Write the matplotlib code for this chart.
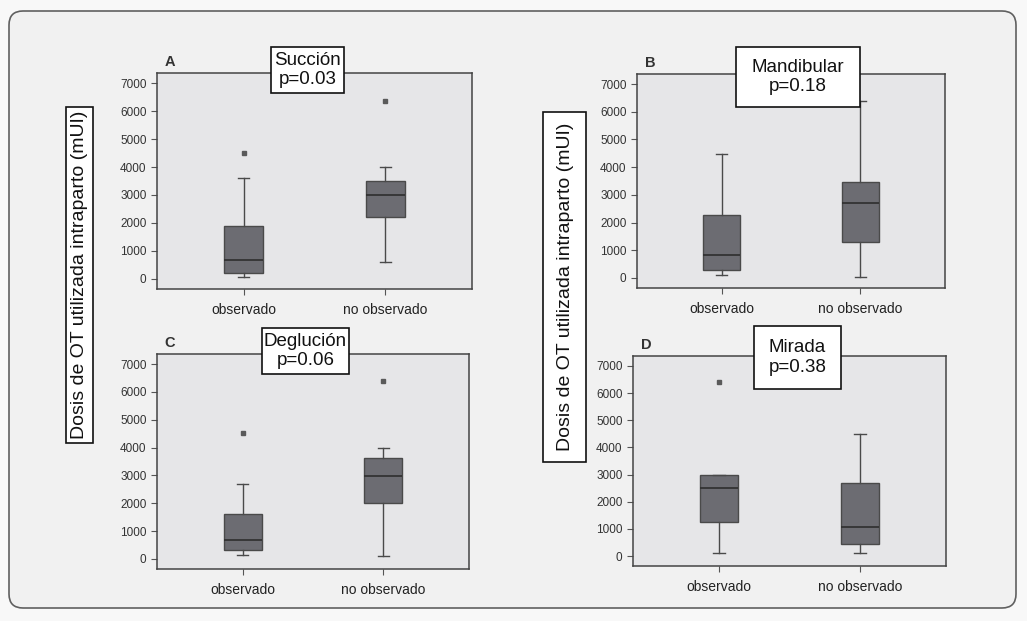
import matplotlib
matplotlib.use('Agg')
import matplotlib.pyplot as plt
from matplotlib.patches import Rectangle, FancyBboxPatch
from matplotlib.transforms import IdentityTransform

plt.rcParams['font.family'] = ['Liberation Sans', 'DejaVu Sans']

# datos (mUI), orden: [observado, no observado]
grupos = ['observado', 'no observado']
letras = ['A', 'B', 'C', 'D']
titulos = ['Succión\np=0.03', 'Mandibular\np=0.18', 'Deglución\np=0.06', 'Mirada\np=0.38']

bigote_inf = [[80, 600], [110, 50], [140, 90], [130, 100]]
cuartil1 = [[190, 2200], [290, 1290], [320, 2010], [1260, 440]]
mediana = [[660, 3000], [830, 2720], [690, 2990], [2490, 1070]]
cuartil3 = [[1900, 3500], [2270, 3460], [1610, 3630], [3000, 2700]]
bigote_sup = [[3600, 4000], [4480, 6390], [2700, 3990], [3000, 4490]]
atipicos = [[[4500], [6380]], [[], []], [[4510], [6400]], [[6400], []]]

yticks = [0, 1000, 2000, 3000, 4000, 5000, 6000, 7000]
etiqueta_y = 'Dosis de OT utilizada intraparto (mUI)'

W, H = 1027, 621
fig = plt.figure(figsize=(W / 100, H / 100), dpi=100)
fig.patch.set_facecolor('#f8f8f8')


def fx(px):
    return px / W


def fy(py):
    return 1 - py / H


def caja_fig(x0, y0, x1, y1, lw=1.2):
    fig.patches.append(Rectangle((fx(x0), fy(y1)), fx(x1) - fx(x0), fy(y0) - fy(y1),
                                 transform=fig.transFigure, facecolor='white',
                                 edgecolor='#111111', linewidth=lw, zorder=2))


# marco redondeado exterior (detras de los ejes)
fig.patches.append(FancyBboxPatch((9, 13), 1007, 597, boxstyle='round,pad=0,rounding_size=14',
                                  transform=IdentityTransform(), facecolor='#f1f1f1',
                                  edgecolor='#606060', linewidth=1.2, zorder=-1))

# posiciones de los paneles en pixeles (izq, arriba, der, abajo)
paneles = [(157, 73, 472, 289), (637, 74, 945, 288), (157, 354, 469, 569), (633, 356, 946, 566)]
cajas_titulo = [(271, 47, 344, 93), (736, 47, 860, 107), (262, 328, 349, 374), (754, 326, 841, 389)]

for i in range(4):
    x0, y0, x1, y1 = paneles[i]
    ax = fig.add_axes([fx(x0), fy(y1), fx(x1) - fx(x0), fy(y0) - fy(y1)])
    ax.set_facecolor('#e6e6e8')

    stats = []
    for j in range(2):
        stats.append({'whislo': bigote_inf[i][j], 'q1': cuartil1[i][j], 'med': mediana[i][j],
                      'q3': cuartil3[i][j], 'whishi': bigote_sup[i][j], 'fliers': atipicos[i][j]})

    ax.bxp(stats, positions=[1, 2], widths=0.27, patch_artist=True, showfliers=True,
           boxprops=dict(facecolor='#6c6c72', edgecolor='#4a4a4a', linewidth=1),
           medianprops=dict(color='#2e2e2e', linewidth=1.2),
           whiskerprops=dict(color='#4a4a4a', linewidth=1),
           capprops=dict(color='#4a4a4a', linewidth=1), capwidths=0.08,
           flierprops=dict(marker='s', markersize=2.8, markerfacecolor='#5a5a5a',
                           markeredgecolor='#5a5a5a'))

    ax.set_xlim(0.39, 2.61)
    ax.set_ylim(-365, 7365)
    ax.set_yticks(yticks)
    ax.set_xticks([1, 2])
    ax.set_xticklabels(grupos, fontsize=10, color='#222222')
    ax.tick_params(axis='y', labelsize=8.5, labelcolor='#333333', color='#555555', length=4)
    ax.tick_params(axis='x', color='#555555', length=4, pad=6)
    for s in ax.spines.values():
        s.set_color('#444444')
        s.set_linewidth(1.1)

    fig.text(fx(x0 + 13), fy(y0 - 11), letras[i], fontsize=10.5, fontweight='bold',
             color='#333333', ha='center', va='center')

    tx0, ty0, tx1, ty1 = cajas_titulo[i]
    caja_fig(tx0, ty0, tx1, ty1)
    fig.text(fx((tx0 + tx1) / 2), fy((ty0 + ty1) / 2), titulos[i], fontsize=13.5,
             ha='center', va='center', linespacing=1.2, color='#111111', zorder=3)

# etiquetas del eje y con recuadro
caja_fig(66, 107, 93, 443)
fig.text(fx(80), fy(275), etiqueta_y, rotation=90, fontsize=14, ha='center', va='center',
         color='#111111', zorder=3)
caja_fig(543, 112, 586, 462)
fig.text(fx(565), fy(287), etiqueta_y, rotation=90, fontsize=14, ha='center', va='center',
         color='#111111', zorder=3)

fig.savefig('out.png', dpi=100, facecolor=fig.get_facecolor())
